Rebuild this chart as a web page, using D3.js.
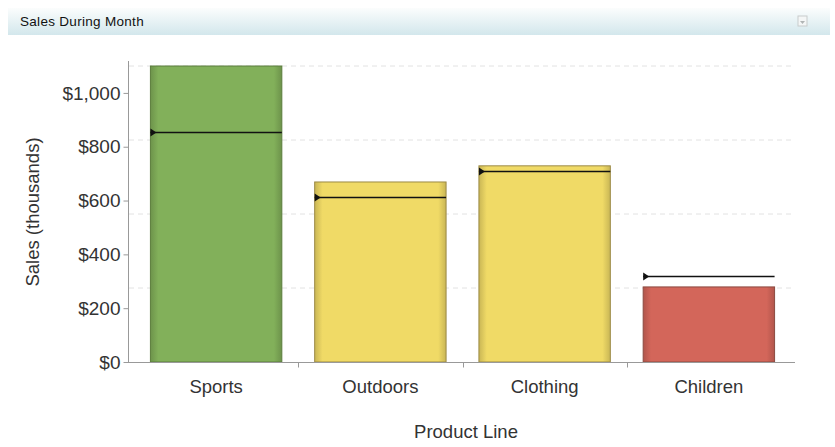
<!DOCTYPE html>
<html><head><meta charset="utf-8">
<script src="https://cdn.jsdelivr.net/npm/d3@7"></script>
<style>body{margin:0;background:#fff;font-family:"Liberation Sans",Arial,sans-serif}</style>
</head><body>
<svg id="c" width="835" height="447"></svg>
<script>
const categories = ["Sports","Outdoors","Clothing","Children"];
const sales = [1100, 669, 729, 279];
const targets = [855, 613, 710, 320];
const statusColors = ["#82b05a","#f0da66","#f0da66","#d3665a"];
const statusStroke = ["#5b7d3c","#9c8a45","#9c8a45","#8c4a40"];
const yTicks = [0,200,400,600,800,1000];
const gridValues = [275,550,825,1100];

const svg = d3.select("#c");
const defs = svg.append("defs");
const hg = defs.append("linearGradient").attr("id","hg").attr("x1",0).attr("x2",0).attr("y1",0).attr("y2",1);
hg.append("stop").attr("offset","0%").attr("stop-color","#fbfdfd");
hg.append("stop").attr("offset","100%").attr("stop-color","#d3e7ec");
svg.append("rect").attr("x",8).attr("y",8).attr("width",822).attr("height",27).attr("fill","url(#hg)");
svg.append("text").attr("x",20).attr("y",26).attr("font-size",13.5).attr("letter-spacing",0.3).attr("fill","#111").text("Sales During Month");
svg.append("rect").attr("x",798).attr("y",16).attr("width",9).attr("height",10).attr("fill","#f4f6f6").attr("stroke","#c8cccc");
svg.append("path").attr("d","M800,21 L805,21 L802.5,24 Z").attr("fill","#b0b4b4");

statusColors.forEach((c,i)=>{
  const g = defs.append("linearGradient").attr("id","bg"+i);
  const dark = d3.color(c).darker(0.5);
  g.append("stop").attr("offset","0%").attr("stop-color",dark);
  g.append("stop").attr("offset","6%").attr("stop-color",c);
  g.append("stop").attr("offset","94%").attr("stop-color",c);
  g.append("stop").attr("offset","100%").attr("stop-color",dark);
});

const x = d3.scaleBand().domain(categories).range([134,791]).paddingInner(0.2).paddingOuter(0.1);
const y = d3.scaleLinear().domain([0,1100]).range([362,66]);

svg.append("g").selectAll("line").data(gridValues).join("line")
  .attr("x1",129).attr("x2",795).attr("y1",d=>y(d)).attr("y2",d=>y(d))
  .attr("stroke","#e2e2e2").attr("stroke-dasharray","5,4");

svg.append("g").selectAll("rect").data(categories).join("rect")
  .attr("x",d=>x(d)).attr("width",x.bandwidth())
  .attr("y",(d,i)=>y(sales[i])).attr("height",(d,i)=>y(0)-y(sales[i]))
  .attr("fill",(d,i)=>"url(#bg"+i+")").attr("stroke",(d,i)=>statusStroke[i]).attr("stroke-width",1);

const tg = svg.append("g");
categories.forEach((c,i)=>{
  const ty = Math.round(y(targets[i]))+0.5;
  tg.append("line").attr("x1",x(c)).attr("x2",x(c)+x.bandwidth()).attr("y1",ty).attr("y2",ty)
    .attr("stroke","#111").attr("stroke-width",1.5);
  tg.append("path").attr("d",`M${x(c)},${ty-4} L${x(c)+6},${ty} L${x(c)},${ty+4} Z`).attr("fill","#111");
});

const FS = 18.5;
const ya = svg.append("g").attr("transform","translate(128.5,0)")
  .call(d3.axisLeft(y).tickValues(yTicks).tickSize(5).tickFormat(d=>"$"+d3.format(",")(d)));
ya.select(".domain").attr("d",`M0,${y(0)}V61`).attr("stroke","#999");
ya.selectAll(".tick line").attr("stroke","#999");
ya.selectAll(".tick text").attr("font-size",19).attr("fill","#333").attr("font-family","Liberation Sans, Arial, sans-serif").attr("x",-8);

const xa = svg.append("g").attr("transform",`translate(0,${y(0)+0.5})`)
  .call(d3.axisBottom(x).tickSize(0).tickPadding(17));
xa.select(".domain").attr("d","M128,0H795").attr("stroke","#999");
xa.selectAll(".tick text").attr("font-size",FS).attr("fill","#333").attr("font-family","Liberation Sans, Arial, sans-serif");
const step = x.step();
xa.append("g").selectAll("line").data(categories.slice(1)).join("line")
  .attr("x1",d=>Math.round(x(d)-step*0.1)+0.5).attr("x2",d=>Math.round(x(d)-step*0.1)+0.5)
  .attr("y1",0).attr("y2",5).attr("stroke","#999");

svg.append("text").attr("transform","translate(39,212) rotate(-90)").attr("text-anchor","middle")
  .attr("font-size",FS).attr("fill","#333").text("Sales (thousands)");
svg.append("text").attr("x",466).attr("y",438).attr("text-anchor","middle")
  .attr("font-size",FS).attr("fill","#333").text("Product Line");
</script>
</body></html>
